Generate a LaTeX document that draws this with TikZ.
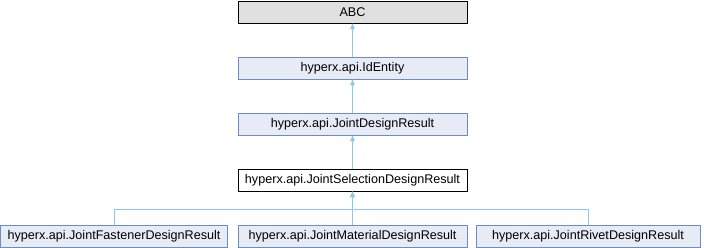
\documentclass[tikz,border=0pt]{standalone}
\usepackage{fontspec}
\setmainfont{Liberation Sans}
\definecolor{classfill}{HTML}{E6EBF6}
\definecolor{classline}{HTML}{6C8CC4}
\definecolor{edgeblue}{HTML}{8CC8EA}
\definecolor{extfill}{HTML}{E0E0E0}
\usetikzlibrary{arrows.meta}

\begin{document}
\begin{tikzpicture}[x=1pt,y=-1pt,
    cls/.style={draw=classline,fill=classfill,minimum height=22pt,inner sep=0pt,font=\fontsize{12.6}{14}\selectfont},
    ext/.style={cls,draw=black,fill=extfill},
    cur/.style={cls,draw=black,fill=white},
    edge/.style={edgeblue,{Latex[length=6pt,width=5pt]}-}]
    \useasboundingbox (0,0) rectangle (704,248);
    \node[ext,minimum width=229pt] (abc) at (352.5,12) {ABC};
    \node[cls,minimum width=229pt] (identity) at (352.5,68) {hyperx.api.IdEntity};
    \node[cls,minimum width=229pt] (design) at (352.5,124) {hyperx.api.JointDesignResult};
    \node[cur,minimum width=229pt] (selection) at (352.5,180) {hyperx.api.JointSelectionDesignResult};
    \node[cls,minimum width=227pt] (fastener) at (114,236) {hyperx.api.JointFastenerDesignResult};
    \node[cls,minimum width=229pt] (material) at (352.5,236) {hyperx.api.JointMaterialDesignResult};
    \node[cls,minimum width=224pt] (rivet) at (588,236) {hyperx.api.JointRivetDesignResult};
    \coordinate (split) at (352.5,209);
    \draw[edge] (abc) -- (identity);
    \draw[edge] (identity) -- (design);
    \draw[edge] (design) -- (selection);
    \draw[edge] (selection) -- (material);
    \draw[edge] (selection.south) -- (split) -| (fastener.north);
    \draw[edge] (selection.south) -- (split) -| (rivet.north);
\end{tikzpicture}
\end{document}
